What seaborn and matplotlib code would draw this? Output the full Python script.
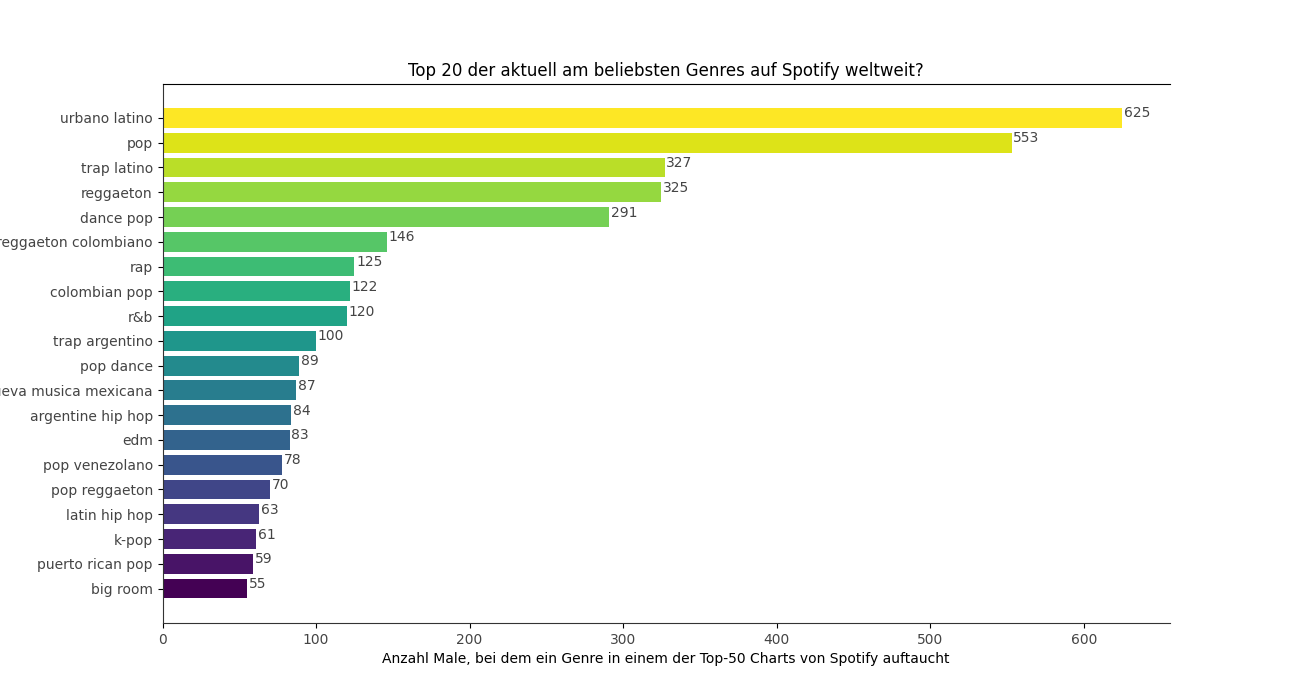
import matplotlib
matplotlib.use("Agg")
import matplotlib.pyplot as plt
import numpy as np
import pandas as pd
import seaborn as sns

GENRES = [
    "urbano latino", "pop", "trap latino", "reggaeton", "dance pop",
    "reggaeton colombiano", "rap", "colombian pop", "r&b", "trap argentino",
    "pop dance", "nueva musica mexicana", "argentine hip hop", "edm", "pop venezolano",
    "pop reggaeton", "latin hip hop", "k-pop", "puerto rican pop", "big room",
]
COUNTS = [625, 553, 327, 325, 291, 146, 125, 122, 120, 100,
          89, 87, 84, 83, 78, 70, 63, 61, 59, 55]

TEXT_GREY = "#444444"

sns.set_theme(style="ticks", rc={"font.family": "DejaVu Sans"})

df = pd.DataFrame({"genre": GENRES, "count": COUNTS})
# full viridis range, yellow on top
colors = [plt.cm.viridis(v) for v in np.linspace(1, 0, len(GENRES))]

fig, ax = plt.subplots(figsize=(13, 7), dpi=100)
sns.barplot(data=df, y="genre", x="count", hue="genre", palette=colors,
            legend=False, saturation=1, width=0.8, linewidth=0, ax=ax)

for i, val in enumerate(COUNTS):
    ax.text(val + 1, i - 0.18, str(val), color=TEXT_GREY, fontsize=10, va="center")

ax.set_title("Top 20 der aktuell am beliebsten Genres auf Spotify weltweit?", fontsize=12, color="black")
ax.set_xlabel("Anzahl Male, bei dem ein Genre in einem der Top-50 Charts von Spotify auftaucht",
              fontsize=10, color="black", labelpad=4)
ax.set_ylabel("")
ax.set_xlim(0, 656.2)
ax.set_ylim(20.39, -1.37)
ax.tick_params(axis="both", labelsize=10, labelcolor=TEXT_GREY, color="black", length=3.5, width=0.8, pad=3.5)
ax.spines["right"].set_visible(False)
ax.spines["top"].set_color("black")
ax.spines["left"].set_color("#333333")
ax.spines["bottom"].set_color("#333333")
for side in ["left", "top", "bottom"]:
    ax.spines[side].set_linewidth(0.8)

fig.subplots_adjust(left=0.125, right=0.9, top=0.88, bottom=0.11)
fig.savefig("out.png", dpi=100)
